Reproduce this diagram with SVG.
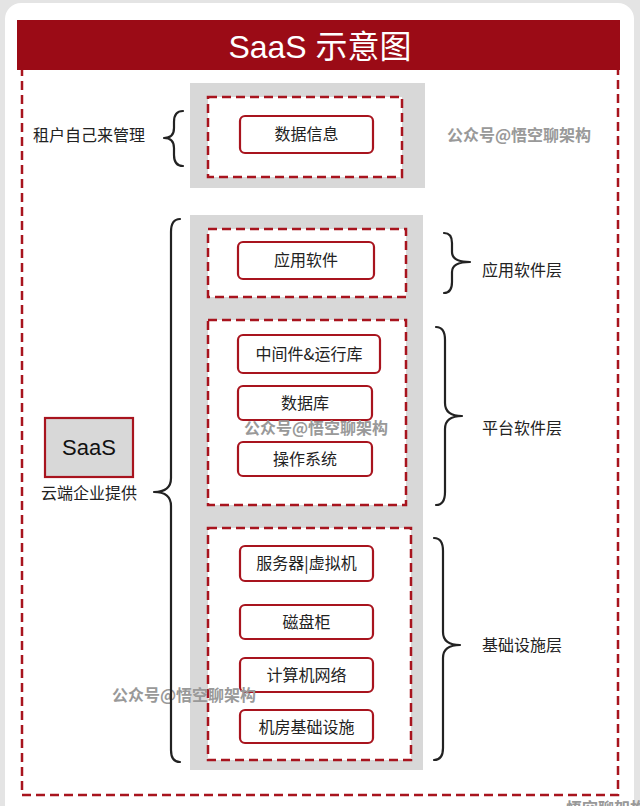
<svg xmlns="http://www.w3.org/2000/svg" width="640" height="806" viewBox="0 0 640 806">
<defs>
<style>
.t{font-family:"Noto Sans CJK SC","Liberation Sans",sans-serif;fill:#222;font-size:16px}
.nt{font-family:"Noto Sans CJK SC","Liberation Sans",sans-serif;fill:#222;font-size:16px;text-anchor:middle}
.wm{font-family:"Noto Sans CJK SC","Liberation Sans",sans-serif;fill:#999;font-size:16px;font-weight:bold}
.node{fill:#fff;stroke:#a8141e;stroke-width:2.2}
.dash{fill:#fff;stroke:#a8141e;stroke-width:2.5;stroke-dasharray:9 5}
.gray{fill:#d8d8d8}
.brace{fill:none;stroke:#222;stroke-width:2.2;stroke-linecap:round;stroke-linejoin:round}
</style>
</defs>
<rect x="0" y="0" width="640" height="806" fill="#e4e4e4"/>
<rect x="5" y="3" width="629" height="820" rx="16" fill="#fff"/>
<!-- outer dashed frame -->
<rect x="22" y="60" width="596" height="735" fill="none" stroke="#a8141e" stroke-width="2.5" stroke-dasharray="9 5"/>
<!-- title -->
<g id="title">
<rect x="17" y="20" width="603" height="50" fill="#9b0b16"/>
<text x="320" y="58" text-anchor="middle" font-family="Liberation Sans, Noto Sans CJK SC, sans-serif" font-size="32" fill="#fff">SaaS 示意图</text>
</g>
<!-- top section -->
<rect class="gray" x="190" y="83" width="235" height="105"/>
<g id="tenant-box"><rect class="dash" x="208" y="97" width="194" height="80"/></g>
<g id="n-data"><rect class="node" x="240" y="116" width="133" height="37" rx="5"/><text class="nt" x="306.5" y="140">数据信息</text></g>
<g id="tenant-label"><text class="t" x="33" y="141">租户自己来管理</text></g>
<text class="wm" x="447" y="141">公众号@悟空聊架构</text>
<!-- big gray -->
<rect class="gray" x="190" y="215" width="233" height="555"/>
<g id="app-box"><rect class="dash" x="208" y="229" width="198" height="68"/></g>
<g id="n-app"><rect class="node" x="238" y="242" width="136" height="37" rx="5"/><text class="nt" x="306" y="266">应用软件</text></g>
<g id="plat-box"><rect class="dash" x="208" y="320" width="198" height="185"/></g>
<g id="n-mid"><rect class="node" x="238" y="335" width="142" height="38" rx="5"/><text class="nt" x="309" y="360">中间件&amp;运行库</text></g>
<g id="n-db"><rect class="node" x="238" y="386" width="134" height="34" rx="5"/><text class="nt" x="305" y="409">数据库</text></g>
<g id="n-os"><rect class="node" x="238" y="442" width="134" height="34" rx="5"/><text class="nt" x="305" y="465">操作系统</text></g>
<text class="wm" x="244" y="434">公众号@悟空聊架构</text>
<g id="infra-box"><rect class="dash" x="208" y="528" width="203" height="232"/></g>
<g id="n-server"><rect class="node" x="240" y="546" width="133" height="35" rx="5"/><text class="nt" x="306.5" y="569">服务器|虚拟机</text></g>
<g id="n-disk"><rect class="node" x="240" y="605" width="133" height="34" rx="5"/><text class="nt" x="306.5" y="628">磁盘柜</text></g>
<g id="n-net"><rect class="node" x="240" y="658" width="133" height="34" rx="5"/><text class="nt" x="306.5" y="681">计算机网络</text></g>
<g id="n-room"><rect class="node" x="240" y="710" width="133" height="33" rx="5"/><text class="nt" x="306.5" y="733">机房基础设施</text></g>
<text class="wm" x="112" y="701">公众号@悟空聊架构</text>
<!-- SaaS -->
<g id="saas"><rect x="45" y="418" width="88" height="59" fill="#d8d8d8" stroke="#a8141e" stroke-width="2.2"/><text x="89" y="455" text-anchor="middle" font-family="Liberation Sans, sans-serif" font-size="22" fill="#111">SaaS</text>
<text class="t" x="89" y="499" text-anchor="middle" fill="#333">云端企业提供</text></g>
<!-- right labels -->
<g id="l-app"><text class="t" x="482" y="276">应用软件层</text></g>
<g id="l-plat"><text class="t" x="482" y="434">平台软件层</text></g>
<g id="l-infra"><text class="t" x="482" y="651">基础设施层</text></g>
<!-- braces -->
<g id="braces">
<path class="brace" d="M183,111 Q174,111 174,122 L174,128 Q174,138 164,138 Q174,138 174,148 L174,155 Q174,166 183,166"/>
<path class="brace" d="M180,219 Q171,219 171,232 L171,478 Q171,492 154,492 Q171,492 171,506 L171,750 Q171,762 180,762"/>
<path class="brace" d="M444,233 Q452,233 452,243 L452,252 Q452,262 470,262 Q452,262 452,272 L452,282 Q452,293 444,293"/>
<path class="brace" d="M436,327 Q445,327 445,340 L445,403 Q445,416 462,416 Q445,416 445,429 L445,492 Q445,505 436,505"/>
<path class="brace" d="M434,538 Q443,538 443,551 L443,632 Q443,645 460,645 Q443,645 443,658 L443,748 Q443,760 434,760"/>
</g>
<text class="wm" x="566" y="814" font-size="16" font-weight="normal">悟空聊架构</text>
</svg>
